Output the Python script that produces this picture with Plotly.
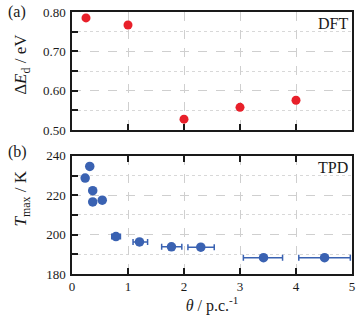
import plotly.graph_objects as go
from plotly.subplots import make_subplots

# Panel (a) DFT
dft_theta = [0.25, 1.0, 2.0, 3.0, 4.0]
dft_dE = [0.785, 0.767, 0.528, 0.558, 0.576]

# Panel (b) TPD
tpd_theta = [0.235, 0.317, 0.37, 0.37, 0.54, 0.785, 1.205, 1.776, 2.30, 3.42, 4.51]
tpd_T = [228.7, 234.6, 222.3, 216.6, 217.5, 199.0, 196.3, 193.8, 193.6, 188.3, 188.3]
tpd_err_plus = [0, 0, 0, 0, 0.02, 0.08, 0.145, 0.185, 0.24, 0.34, 0.46]
tpd_err_minus = [0, 0, 0, 0, 0.02, 0.075, 0.115, 0.175, 0.23, 0.36, 0.46]

RED = "#e8202a"
BLUE = "#3a62b2"
FONT = "Liberation Serif"
INK = "#1a1a1a"

fig = make_subplots(rows=2, cols=1, shared_xaxes=False, vertical_spacing=0.1)

fig.add_trace(go.Scatter(x=dft_theta, y=dft_dE, mode="markers",
                         marker=dict(color=RED, size=9, line=dict(width=0)),
                         showlegend=False, cliponaxis=False), row=1, col=1)
fig.add_trace(go.Scatter(x=tpd_theta, y=tpd_T, mode="markers",
                         marker=dict(color=BLUE, size=9.5, line=dict(width=0)),
                         error_x=dict(type="data", array=tpd_err_plus, arrayminus=tpd_err_minus,
                                      color=BLUE, thickness=1.5, width=3),
                         showlegend=False), row=2, col=1)

grid = dict(showgrid=True, gridcolor="#cfcfcf", griddash="dash", gridwidth=1)
common = dict(showline=True, linecolor=INK, linewidth=1.5, mirror=True,
              ticks="inside", ticklen=6, tickwidth=1.5, tickcolor=INK,
              tickfont=dict(family=FONT, size=13, color=INK), zeroline=False, **grid)

fig.update_xaxes(range=[0, 5], dtick=1, showticklabels=False, row=1, col=1, **common)
fig.update_xaxes(range=[0, 5], dtick=1, row=2, col=1, **{**common, "mirror": "ticks"},
                 title=dict(text="<i>θ</i> / p.c.<sup>-1</sup>", font=dict(family=FONT, size=16, color=INK),
                            standoff=5))
minor_a = dict(dtick=0.05, ticks="inside", ticklen=6, tickwidth=1.5, tickcolor=INK,
               showgrid=True, gridcolor="#d8d8d8", griddash="dot", gridwidth=1)
minor_b = dict(dtick=10, ticks="inside", ticklen=6, tickwidth=1.5, tickcolor=INK,
               showgrid=True, gridcolor="#d8d8d8", griddash="dot", gridwidth=1)
fig.update_yaxes(range=[0.5, 0.8], dtick=0.1, tickformat=".2f", minor=minor_a, row=1, col=1,
                 ticklabelstandoff=2, **common)
fig.update_yaxes(range=[180, 240], dtick=20, minor=minor_b, row=2, col=1,
                 ticklabelstandoff=2, **common)

fig.layout.yaxis.domain = [0.549, 1.0]
fig.layout.yaxis2.domain = [0.0, 0.451]

ann_font = dict(family=FONT, size=16, color=INK)
title_font = dict(family=FONT, size=17, color=INK)
fig.add_annotation(text="Δ<i>E</i><sub>d</sub> / eV", xref="paper", yref="paper", x=-0.177, y=0.80,
                   xanchor="center", yanchor="middle", textangle=-90, showarrow=False, font=title_font)
fig.add_annotation(text="<i>T</i><sub>max</sub> / K", xref="paper", yref="paper", x=-0.177, y=0.29,
                   xanchor="center", yanchor="middle", textangle=-90, showarrow=False, font=title_font)
fig.add_annotation(text="(a)", xref="paper", yref="paper", x=-0.237, y=1.0, xanchor="left", yanchor="middle",
                   showarrow=False, font=ann_font)
fig.add_annotation(text="(b)", xref="paper", yref="paper", x=-0.237, y=0.467, xanchor="left", yanchor="middle",
                   showarrow=False, font=ann_font)
fig.add_annotation(text="DFT", xref="x", yref="y domain", x=4.97, y=0.9, xanchor="right", yanchor="middle",
                   showarrow=False, font=ann_font)
fig.add_annotation(text="TPD", xref="x2", yref="y2 domain", x=4.97, y=0.9, xanchor="right", yanchor="middle",
                   showarrow=False, font=ann_font)

fig.update_layout(width=360, height=319, margin=dict(l=72, r=5, t=10, b=45),
                  paper_bgcolor="white", plot_bgcolor="white")

fig.write_html("out.html", config={"displayModeBar": False},
               post_script="document.body.style.margin='0';")
